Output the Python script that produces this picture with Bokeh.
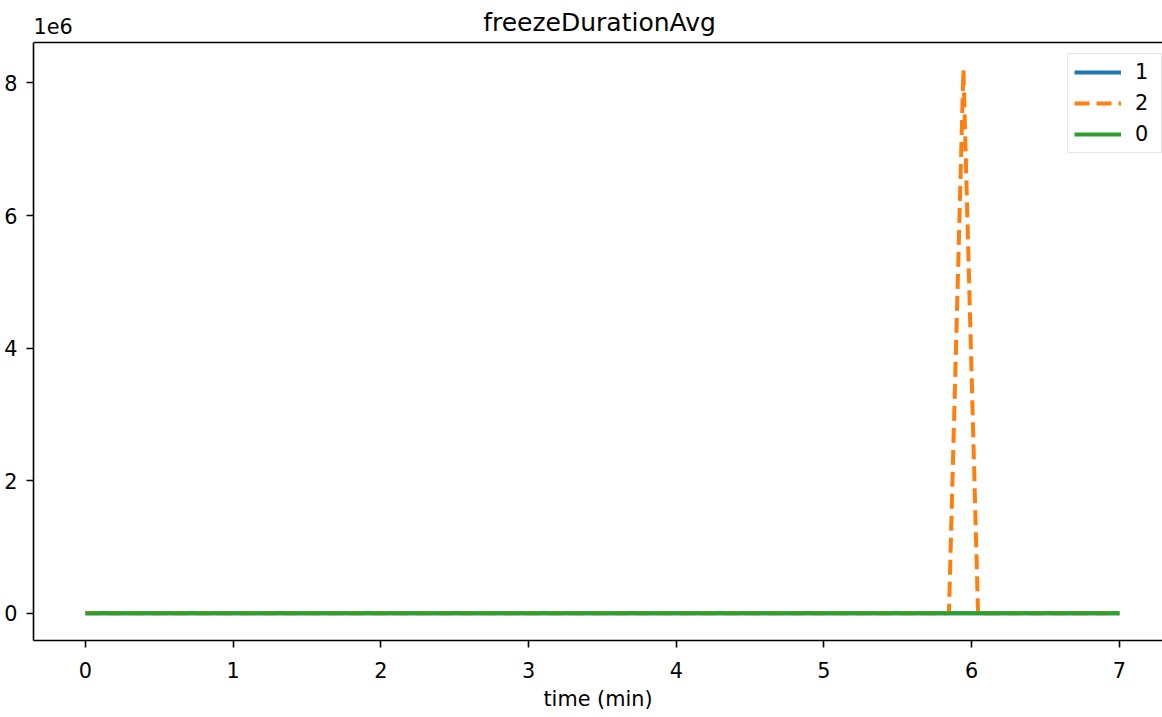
from bokeh.plotting import figure
from bokeh.models import FixedTicker, Label, Span, Legend, LegendItem, Range1d
from bokeh.embed import file_html
from bokeh.resources import INLINE

# ---- data ----
time_1 = [0.0, 7.0]
freeze_1 = [0.0, 0.0]
time_2 = [0.0, 5.846, 5.944, 6.043, 7.0]
freeze_2 = [0.0, 0.0, 8.2e6, 0.0, 0.0]
time_0 = [0.0, 7.0]
freeze_0 = [0.0, 0.0]

series_names = ["1", "2", "0"]
series_colors = ["#1f77b4", "#ff7f0e", "#2ca02c"]

x_ticks = [0, 1, 2, 3, 4, 5, 6, 7]
y_ticks = [0, 2e6, 4e6, 6e6, 8e6]
y_tick_labels = ["0", "2", "4", "6", "8"]

title_text = "freezeDurationAvg"
x_label = "time (min)"
offset_text = "1e6"

FONT = "DejaVu Sans"
FS = "20.8px"

W, H = 1162, 717
FRAME_LEFT, FRAME_BOTTOM = 33, 640     # page px
AXES_TOP = 42                          # visual top spine, page px
x0 = -0.352
px_per_x = 147.7
x1 = x0 + (W - FRAME_LEFT) / px_per_x
y0, y1 = -0.41e6, 8.61e6               # visual axes limits
px_per_y = (FRAME_BOTTOM - AXES_TOP) / (y1 - y0)
y_top = y0 + FRAME_BOTTOM / px_per_y   # frame extends to canvas top

p = figure(width=W, height=H, output_backend="svg", toolbar_location=None,
           x_range=Range1d(x0, x1), y_range=Range1d(y0, y_top),
           min_border_left=FRAME_LEFT, min_border_right=0, min_border_top=0,
           min_border_bottom=H - FRAME_BOTTOM)
p.title.visible = False
p.outline_line_color = None
p.xgrid.visible = False
p.ygrid.visible = False
p.background_fill_color = "white"
p.border_fill_color = "white"

r1 = p.line(time_1, freeze_1, color=series_colors[0], line_width=4)
r2 = p.line(time_2, freeze_2, color=series_colors[1], line_width=4, line_dash="15 7")
r0 = p.line(time_0, freeze_0, color=series_colors[2], line_width=4)

for ax in (p.xaxis[0], p.yaxis[0]):
    ax.axis_line_color = "black"
    ax.axis_line_width = 1.6
    ax.major_tick_line_color = "black"
    ax.major_tick_line_width = 1.6
    ax.major_tick_out = 7
    ax.major_tick_in = 0
    ax.minor_tick_line_color = None
    ax.major_label_text_font = FONT
    ax.major_label_text_font_size = FS
    ax.major_label_text_color = "black"

p.yaxis.bounds = (y0, y1)
p.xaxis.ticker = FixedTicker(ticks=x_ticks)
p.yaxis.ticker = FixedTicker(ticks=y_ticks)
p.yaxis.major_label_overrides = {float(v): s for v, s in zip(y_ticks, y_tick_labels)}
p.yaxis.major_label_standoff = 9
p.xaxis.major_label_standoff = 14
p.xaxis.axis_label = x_label
p.xaxis.axis_label_text_font = FONT
p.xaxis.axis_label_text_font_size = FS
p.xaxis.axis_label_text_font_style = "normal"
p.xaxis.axis_label_text_color = "black"
p.xaxis.axis_label_standoff = 6

# top spine
p.add_layout(Span(location=y1, dimension="width", line_color="black", line_width=1.6))

p.add_layout(Label(x=3.48, y=y1, y_offset=20, text=title_text,
                   text_align="center", text_baseline="alphabetic",
                   text_font=FONT, text_font_size="25px", text_color="black"))
p.add_layout(Label(x=x0, y=y1, y_offset=17, text=offset_text,
                   text_align="left", text_baseline="alphabetic",
                   text_font=FONT, text_font_size=FS, text_color="black"))

legend = Legend(items=[LegendItem(label=series_names[0], renderers=[r1]),
                       LegendItem(label=series_names[1], renderers=[r2]),
                       LegendItem(label=series_names[2], renderers=[r0])],
                location=(1034, 487))
legend.label_text_font = FONT
legend.label_text_font_size = FS
legend.label_text_color = "black"
legend.glyph_width = 47
legend.glyph_height = 24
legend.label_height = 24
legend.label_standoff = 14
legend.spacing = 7
legend.padding = 6
legend.margin = 0
legend.border_line_color = "#cccccc"
legend.border_line_width = 1.6
legend.background_fill_alpha = 0.8
p.add_layout(legend)

open("out.html", "w").write(file_html(p, INLINE))
